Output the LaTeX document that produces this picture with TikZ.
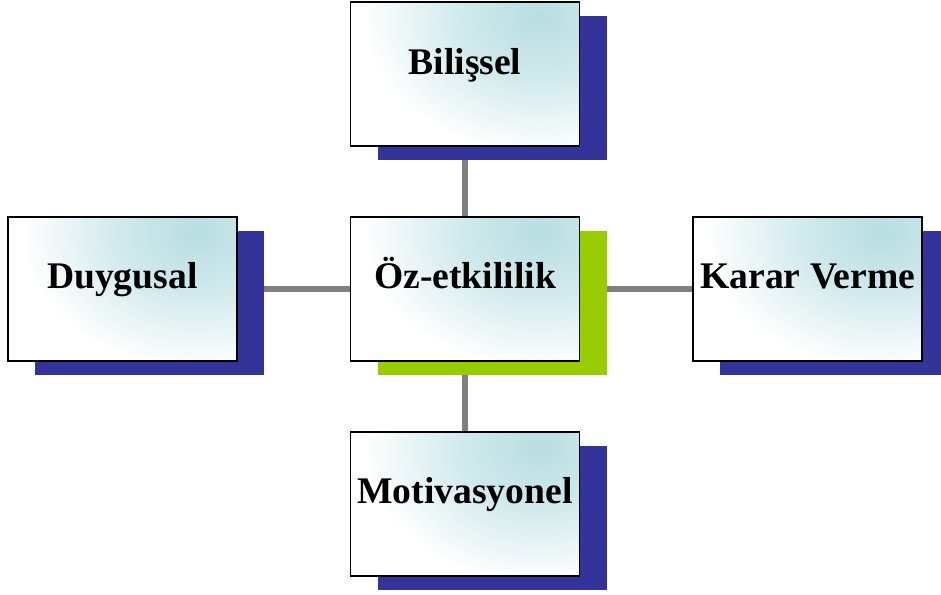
\documentclass[tikz,border=0pt]{standalone}
\usepackage{fontspec}
\setmainfont{Liberation Serif}
\usetikzlibrary{positioning,shadows,backgrounds}
\definecolor{boxteal}{RGB}{184,222,226}
\definecolor{shadeblue}{RGB}{51,51,153}
\definecolor{shadegreen}{RGB}{153,204,0}
\definecolor{linkgray}{RGB}{128,128,128}
\pgfdeclareradialshading{tealglow}{\pgfpoint{0cm}{0cm}}{%
  color(0bp)=(boxteal); color(9bp)=(boxteal!65!white);
  color(20bp)=(white); color(50bp)=(white)}
\tikzset{
  topic/.style={
    rectangle,
    draw=black,
    line width=1pt,
    fill=white,
    minimum width=4.58cm,
    minimum height=2.88cm,
    inner sep=0pt,
    text height=0.3cm,
    text depth=0.3cm,
    font=\fontsize{21.4}{25}\selectfont\bfseries,
    path picture={
      \shade[shading=tealglow]
        ([xshift=-0.8cm, yshift=-0.3cm]path picture bounding box.north east)
        ellipse (4.4cm and 3.4cm);
    }
  },
  blue-shadow/.style={
    drop shadow={shadow xshift=0.54cm, shadow yshift=-0.28cm,
      fill=shadeblue, opacity=1}
  },
  green-shadow/.style={
    drop shadow={shadow xshift=0.54cm, shadow yshift=-0.28cm,
      fill=shadegreen, opacity=1}
  },
  link/.style={linkgray, line width=3.4pt}
}

\begin{document}
\begin{tikzpicture}
  \useasboundingbox (0,0) rectangle (18.82,11.9);
  \node[topic, green-shadow] (oz) at (9.3,6.12) {Öz-etkililik};
  \node[topic, blue-shadow, above=1.38cm of oz] (bilissel) {Bilişsel};
  \node[topic, blue-shadow, below=1.38cm of oz] (motiv) {Motivasyonel};
  \node[topic, blue-shadow, left=2.24cm of oz] (duygu) {Duygusal};
  \node[topic, blue-shadow, right=2.24cm of oz] (karar) {Karar Verme};
  \begin{pgfonlayer}{background}
    \draw[link] (oz) -- (bilissel);
    \draw[link] (oz) -- (motiv);
    \draw[link] (oz) -- (duygu);
    \draw[link] (oz) -- (karar);
  \end{pgfonlayer}
\end{tikzpicture}
\end{document}
